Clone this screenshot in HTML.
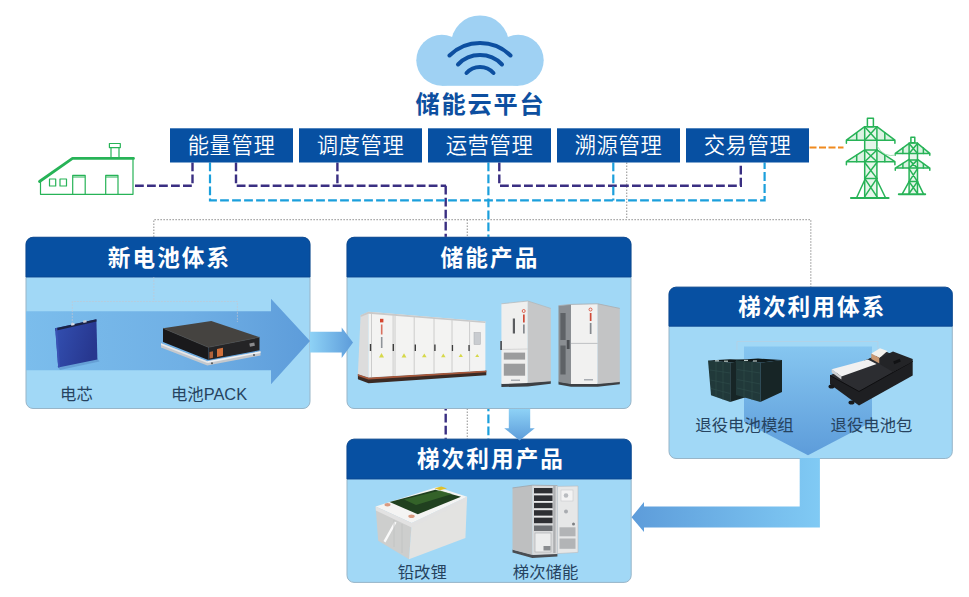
<!DOCTYPE html>
<html lang="zh-CN">
<head>
<meta charset="utf-8">
<title>储能云平台</title>
<style>
  html, body { margin: 0; padding: 0; background: #ffffff; }
  body { width: 969px; height: 597px; overflow: hidden; position: relative; }
  svg { position: absolute; left: 0; top: 0; display: block; }
  text { font-family: "Liberation Sans", "Noto Sans CJK SC", sans-serif; }
  .hd { font-weight: 700; font-size: 22.6px; fill: #ffffff; letter-spacing: 2.1px; text-anchor: middle; }
  .menu { font-weight: 350; font-size: 21.3px; fill: #ffffff; letter-spacing: 0.6px; text-anchor: middle; }
  .lbl { font-weight: 400; font-size: 16.4px; fill: #26435f; text-anchor: middle; }
  .title { font-weight: 700; font-size: 24.2px; fill: #0d4fa0; letter-spacing: 1.8px; text-anchor: middle; }
  .pur { stroke: #3a2f82; stroke-width: 2.4; stroke-dasharray: 8.8 3.2; fill: none; }
  .cya { stroke: #1b9fdc; stroke-width: 2.2; stroke-dasharray: 8.8 3.2; fill: none; }
  .ora { stroke: #f08a1e; stroke-width: 2; stroke-dasharray: 7 2.5; fill: none; }
  .dot { stroke: #a2a2a2; stroke-width: 1.2; stroke-dasharray: 1.5 1.5; fill: none; }
  .grn { stroke: #27b357; fill: none; stroke-linecap: round; stroke-linejoin: round; }
</style>
</head>
<body>
<svg width="969" height="597" viewBox="0 0 969 597">
<defs>
  <linearGradient id="gBand" x1="0" y1="0" x2="1" y2="0">
    <stop offset="0" stop-color="#7bbdec"/>
    <stop offset="0.55" stop-color="#70b0e5"/>
    <stop offset="1" stop-color="#5d9cda"/>
  </linearGradient>
  <linearGradient id="gSmallR" x1="0" y1="0" x2="1" y2="0">
    <stop offset="0" stop-color="#8ed2f6"/>
    <stop offset="1" stop-color="#5d9cda"/>
  </linearGradient>
  <linearGradient id="gDown" x1="0" y1="0" x2="0" y2="1">
    <stop offset="0" stop-color="#8ed2f6"/>
    <stop offset="1" stop-color="#5d9cda"/>
  </linearGradient>
  <linearGradient id="gInner" x1="0" y1="0" x2="0" y2="1">
    <stop offset="0" stop-color="#86c6f0"/>
    <stop offset="1" stop-color="#5d9cda"/>
  </linearGradient>
  <linearGradient id="gCell" x1="0" y1="0" x2="1" y2="0.3">
    <stop offset="0" stop-color="#3350b2"/>
    <stop offset="1" stop-color="#27378f"/>
  </linearGradient>
  <linearGradient id="gLeft" x1="0" y1="0" x2="1" y2="0">
    <stop offset="0" stop-color="#5d9cda"/>
    <stop offset="1" stop-color="#80caf4"/>
  </linearGradient>
  <filter id="sh" x="-5%" y="-5%" width="110%" height="112%">
    <feGaussianBlur in="SourceAlpha" stdDeviation="1.2"/>
    <feOffset dx="0" dy="1"/>
    <feComponentTransfer><feFuncA type="linear" slope="0.28"/></feComponentTransfer>
    <feMerge><feMergeNode/><feMergeNode in="SourceGraphic"/></feMerge>
  </filter>
</defs>

<!-- ===== CLOUD ===== -->
<g id="cloud">
  <g fill="#9fd1f3">
    <circle cx="480" cy="44.4" r="29"/>
    <circle cx="441.8" cy="60.3" r="25.5"/>
    <circle cx="518.2" cy="60.3" r="25.5"/>
    <rect x="441.8" y="55" width="76.4" height="30.8"/>
  </g>
  <g fill="none" stroke="#0d4fa0" stroke-width="4" stroke-linecap="round">
    <path d="M 449.5 55.5 A 43.5 43.5 0 0 1 510.5 55.5"/>
    <path d="M 458 64.5 A 30.5 30.5 0 0 1 502 64.5"/>
    <path d="M 466.5 73 A 18 18 0 0 1 493.5 73"/>
  </g>
  <text class="title" x="480.5" y="113">储能云平台</text>
</g>

<!-- ===== DASHED CONNECTORS (behind panels) ===== -->
<g id="lines">
  <!-- grey dotted -->
  <path class="dot" d="M 153.8 237 V 219.6 H 810.8 V 287"/>
  <path class="dot" d="M 626.7 162.5 V 219.6"/>
  <path class="dot" d="M 467.3 219.6 V 440"/>
  <!-- purple -->
  <path class="pur" d="M 192.5 162.5 V 185.8 H 133.5"/>
  <path class="pur" d="M 236 162.5 V 185.8 H 446"/>
  <path class="pur" d="M 337.4 162.5 V 185.8"/>
  <path class="pur" d="M 499.3 162.5 V 185.8 H 740.8 V 162.5"/>
  <path class="pur" d="M 445.7 185.8 V 440"/>
  <!-- cyan -->
  <path class="cya" d="M 210 162.5 V 200.4 H 764.6 V 162.5"/>
  <path class="cya" d="M 488.4 162.5 V 440"/>
  <path class="cya" d="M 613.3 162.5 V 200.4"/>
  <!-- orange -->
  <path class="ora" d="M 809.5 147.5 H 843.5"/>
</g>

<!-- ===== MENU BAR ===== -->
<g id="menu">
  <g fill="#0750a2">
    <rect x="170" y="128.3" width="123" height="34.2"/>
    <rect x="299" y="128.3" width="123" height="34.2"/>
    <rect x="428" y="128.3" width="123" height="34.2"/>
    <rect x="557" y="128.3" width="123" height="34.2"/>
    <rect x="686" y="128.3" width="123" height="34.2"/>
  </g>
  <text class="menu" x="231.5" y="152.6">能量管理</text>
  <text class="menu" x="360.5" y="152.6">调度管理</text>
  <text class="menu" x="489.5" y="152.6">运营管理</text>
  <text class="menu" x="618.5" y="152.6">溯源管理</text>
  <text class="menu" x="747.5" y="152.6">交易管理</text>
  <!-- house -->
  <g class="grn" stroke-width="1.2">
    <path d="M 40.5 181 L 40.5 194.3 L 133 194.3 L 133 158.5"/>
    <rect x="49.5" y="179" width="6.2" height="7"/>
    <rect x="60" y="179" width="6.5" height="7"/>
    <path d="M 72.7 194.3 V 175.4 H 85.2 V 194.3 M 72.7 177 H 85.2"/>
    <path d="M 105.7 194.3 V 175.4 H 118 V 194.3 M 105.7 177 H 118"/>
    <path d="M 109.4 143.5 H 120.3 V 147.6 H 109.4 Z M 111 147.6 V 158 M 119 147.6 V 158"/>
  </g>
  <path class="grn" stroke-width="2.8" d="M 39.5 181.5 L 72.5 158.4 L 133.5 158.4"/>
  <!-- towers -->
  <g id="towers">
    <g fill="#dcf3e3" stroke="none">
      <path d="M 846.4 140.2 L 864.7 126.7 H 876.9 L 894.9 140.2 Z M 846.4 161.7 L 864.7 149.8 H 876.9 L 894.9 161.7 Z"/>
      <path d="M 895.3 153.4 L 909.1 143.3 H 917.5 L 929.8 153.4 Z M 895.3 168.1 L 909.1 159.3 H 917.5 L 929.8 168.1 Z"/>
      <path d="M 864.7 126.7 H 876.9 V 197.5 H 864.7 Z M 909.1 143 H 917.5 V 193.5 H 909.1 Z" fill="#e6f6ea"/>
    </g>
    <g class="grn" stroke-width="1.5">
      <!-- tower 1 -->
      <rect x="867.4" y="118.3" width="6" height="8.4"/>
      <path d="M 864.7 126.7 V 197.5 M 876.9 126.7 V 197.5 M 864.7 126.7 H 876.9"/>
      <path d="M 846.4 143.2 V 140.2 H 894.9 V 143.2 M 846.4 140.2 L 864.7 126.7 M 894.9 140.2 L 876.9 126.7"/>
      <path d="M 856.7 132.8 V 140.2 M 884.8 132.8 V 140.2"/>
      <path d="M 846.4 164.8 V 161.7 H 894.9 V 164.8 M 846.4 161.7 L 864.7 149.8 M 894.9 161.7 L 876.9 149.8"/>
      <path d="M 856.7 155.2 V 161.7 M 884.8 155.2 V 161.7"/>
      <path d="M 864.7 126.7 L 876.9 140.2 M 876.9 126.7 L 864.7 140.2"/>
      <path d="M 864.7 150 L 876.9 161.7 M 876.9 150 L 864.7 161.7 M 864.7 150 H 876.9"/>
      <path d="M 864.7 162.5 L 876.9 178.4 M 876.9 162.5 L 864.7 178.4 M 864.7 178.4 H 876.9"/>
      <path d="M 864.7 178.4 L 876.9 196.7 M 876.9 178.4 L 864.7 196.7"/>
      <path d="M 864.7 180 L 856.7 197.5 M 876.9 180 L 885.4 197.5"/>
      <!-- tower 2 -->
      <rect x="910.9" y="137.2" width="3.9" height="5.6"/>
      <path d="M 909.1 143 V 193.5 M 917.5 143 V 193.5 M 909.1 143 H 917.5"/>
      <path d="M 895.3 155.2 V 153.4 H 929.8 V 155.2 M 895.3 153.4 L 909.1 143.3 M 929.8 153.4 L 917.5 143.3"/>
      <path d="M 902.9 148 V 153.4 M 923.4 148 V 153.4"/>
      <path d="M 895.3 170.2 V 168.1 H 929.8 V 170.2 M 895.3 168.1 L 909.1 159.3 M 929.8 168.1 L 917.5 159.3"/>
      <path d="M 902.9 163.5 V 168.1 M 923.4 163.5 V 168.1"/>
      <path d="M 909.1 143.5 L 917.5 153.4 M 917.5 143.5 L 909.1 153.4"/>
      <path d="M 909.1 159.9 L 917.5 168.1 M 917.5 159.9 L 909.1 168.1 M 909.1 159.9 H 917.5"/>
      <path d="M 909.1 168.7 L 917.5 181.6 M 917.5 168.7 L 909.1 181.6 M 909.1 181.6 H 917.5"/>
      <path d="M 909.1 181.6 L 917.5 193.5 M 917.5 181.6 L 909.1 193.5"/>
      <path d="M 909.1 181.6 L 902.3 193.9 M 917.5 181.6 L 923.4 193.9"/>
    </g>
    <path class="grn" stroke-width="2.2" d="M 851 198 H 888.5"/>
    <path class="grn" stroke-width="2" d="M 898.8 194.2 H 925.2"/>
    <path d="M 877 146 Q 884 158 896 155" fill="none" stroke="#8fd8a6" stroke-width="0.8"/>
  </g>
</g>

<!-- ===== PANELS ===== -->
<g id="panels">
  <!-- P1 新电池体系 -->
  <g>
    <rect x="26" y="237.3" width="284" height="171.2" rx="7" ry="7" fill="#a1d8f6" stroke="#98b5c8" stroke-width="1"/>
    <path d="M 26 277.0 V 244.3 A 7 7 0 0 1 33 237.3 H 303 A 7 7 0 0 1 310 244.3 V 277.0 Z" fill="#0750a2" stroke="#0b4690" stroke-width="0.9"/>
  </g>
  <path d="M 26 311.3 H 271 V 298.7 L 310 341 L 271 384.3 V 370.3 H 26 Z" fill="url(#gBand)"/>
  <path d="M 72.3 330 V 301.5 H 237.4 V 322 M 153.8 277 V 301.5" fill="none" stroke="#c3c6cf" stroke-width="0.8" stroke-dasharray="2 1" opacity="0.8"/>
  <text class="hd" x="169.5" y="266">新电池体系</text>
  <g id="cell">
    <path d="M 57 366 L 97.5 358.5 L 99.5 361.5 L 60 370 Z" fill="#5a8fc8" opacity="0.6"/>
    <path d="M 55.2 328.2 L 96.4 319.2 L 97.4 359.4 L 58.2 367.5 Z" fill="url(#gCell)"/>
    <path d="M 55.2 328.2 L 96.4 319.2 L 96.5 321.6 L 55.4 330.8 Z" fill="#1b2346"/>
    <path d="M 55.2 328.2 L 58.2 367.5 L 60 367.1 L 57.2 327.8 Z" fill="#3a52b4"/>
    <rect x="71" y="323.4" width="3.4" height="2.2" fill="#d8dce6" transform="rotate(-12 72 324)"/>
    <rect x="83" y="320.6" width="3.4" height="2.2" fill="#c8ccd6" transform="rotate(-12 84 321)"/>
  </g>
  <g id="pack">
    <path d="M 161 343.2 L 207.3 361.3 L 260.5 351.3 L 260.5 355.5 L 207.3 365.6 L 161 347.4 Z" fill="#c4c8cd"/>
    <path d="M 161 343.2 L 207.3 361.3 L 207.3 363 L 161 345 Z" fill="#e6e8ea"/>
    <path d="M 207.3 361.3 L 260.5 351.3 L 260.5 353 L 207.3 363 Z" fill="#eef0f2"/>
    <path d="M 163 328.2 L 211.3 321.1 L 259.5 337.2 L 208.3 347.3 Z" fill="#454340"/>
    <path d="M 163 328.2 L 208.3 347.3 L 208.3 360 L 163 342 Z" fill="#19191b"/>
    <path d="M 208.3 347.3 L 259.5 337.2 L 259.5 350.3 L 208.3 360 Z" fill="#242426"/>
    <path d="M 163 328.2 L 208.3 347.3 L 259.5 337.2" fill="none" stroke="#55504a" stroke-width="0.7"/>
    <path d="M 217 349 L 223 347.8 L 223 355.8 L 217 357 Z" fill="#d2703a"/>
    <path d="M 209.5 352 L 213 351.3 L 213 357.8 L 209.5 358.5 Z" fill="#b0623a"/>
    <rect x="249.5" y="343" width="5" height="3.2" fill="#8a8a8c" transform="rotate(-11 252 344)"/>
    <circle cx="212" cy="363.3" r="1" fill="#555"/><circle cx="254" cy="355" r="1" fill="#555"/>
  </g>
  <text class="lbl" x="76.5" y="399.5">电芯</text>
  <text class="lbl" x="209" y="399.5">电池PACK</text>


  <!-- P2 储能产品 -->
  <g>
    <rect x="347" y="237.3" width="284" height="171.2" rx="7" ry="7" fill="#a1d8f6" stroke="#98b5c8" stroke-width="1"/>
    <path d="M 347 277.0 V 244.3 A 7 7 0 0 1 354 237.3 H 624 A 7 7 0 0 1 631 244.3 V 277.0 Z" fill="#0750a2" stroke="#0b4690" stroke-width="0.9"/>
  </g>
  <!-- small arrow P1 -> P2 -->
  <path d="M 310 331.8 H 341.7 V 327.5 L 353 342.5 L 341.7 358 V 352.6 H 310 Z" fill="url(#gSmallR)"/>
  <text class="hd" x="490" y="266">储能产品</text>
  <g id="container">
    <path d="M 357.9 374.1 L 368.5 377.6 L 486.3 370.6 L 486.3 375.2 L 368.5 383.2 L 357.9 379.2 Z" fill="#3a2a24"/>
    <path d="M 357.9 374.1 L 368.5 377.6 L 486.3 370.6 L 486.3 372.3 L 368.5 379.6 L 357.9 376 Z" fill="#a5583c"/>
    <path d="M 360.6 315.2 L 368.5 311.7 L 368.5 377.6 L 357.9 374.1 Z" fill="#dcdcdc"/>
    <path d="M 368.5 311.7 L 485.4 321.4 L 485.4 370.6 L 368.5 377.6 Z" fill="#f3f3f2"/>
    <path d="M 360.6 315.2 L 368.5 311.7 L 485.4 321.4 L 485.4 323 L 368.5 313.8 L 360.6 317 Z" fill="#c9c9c9"/>
    <g stroke="#c2c2c2" stroke-width="0.8" fill="none">
      <path d="M 371.5 314 V 377 M 393.1 315.5 V 376 M 395 315.7 V 376 M 414.2 317.2 V 375 M 434 318.8 V 373.8 M 452 320.2 V 372.6 M 469.6 321.6 V 371.6"/>
    </g>
    <g fill="#3c3c3c">
      <rect x="369.8" y="344" width="1.4" height="7"/><rect x="392.6" y="344" width="1.4" height="7"/>
      <rect x="414.6" y="344.5" width="1.4" height="6.5"/><rect x="434.2" y="344.5" width="1.4" height="6.5"/>
      <rect x="451.8" y="345" width="1.3" height="6"/><rect x="468.4" y="345" width="1.3" height="6"/>
    </g>
    <g fill="#d6d84a">
      <path d="M 381.5 353 L 384 357.5 L 379 357.5 Z"/><path d="M 404 353.2 L 406.4 357.4 L 401.6 357.4 Z"/>
      <path d="M 424.3 353.4 L 426.6 357.3 L 422 357.3 Z"/><path d="M 443.3 353.6 L 445.5 357.2 L 441.1 357.2 Z"/>
      <path d="M 460.8 353.8 L 462.9 357.1 L 458.7 357.1 Z"/><path d="M 477.2 354 L 479.2 357 L 475.2 357 Z"/>
    </g>
    <rect x="380" y="318.8" width="3.4" height="3.6" fill="#d5452f"/>
    <rect x="380.9" y="324.5" width="1.6" height="10" fill="#d9705f"/>
    <rect x="380.9" y="337" width="1.6" height="11" fill="#8f9499"/>
    <rect x="474" y="332.5" width="6.4" height="12" fill="#c9ccd0" stroke="#a9acb0" stroke-width="0.5"/>
  </g>
  <g id="cab2">
    <path d="M 501.4 383.4 L 527.8 382.6 L 550.8 380.8 L 550.8 383.8 L 527.8 386.6 L 501.4 387 Z" fill="#3d4044"/>
    <path d="M 501.4 303.8 L 527.8 301 L 527.8 383 L 501.4 384 Z" fill="#efefee"/>
    <path d="M 527.8 301 L 550.8 308.4 L 550.8 381.2 L 527.8 383 Z" fill="#c6c7c8"/>
    <path d="M 501.4 303.8 L 527.8 301 L 550.8 308.4" fill="none" stroke="#b5b5b5" stroke-width="0.7"/>
    <path d="M 501.4 349.5 L 527.8 349 " stroke="#c9c9c9" stroke-width="0.7" fill="none"/>
    <rect x="503.8" y="352.6" width="21.3" height="7" fill="#9b9c9d"/>
    <rect x="503.8" y="363.7" width="21.3" height="12" fill="#9b9c9d"/>
    <rect x="512.8" y="318.5" width="2.2" height="15" fill="#5a5c5f"/>
    <rect x="500.2" y="341" width="1.8" height="9" fill="#55585c"/>
    <circle cx="523.7" cy="311" r="1.5" fill="none" stroke="#d5452f" stroke-width="0.8"/>
    <rect x="523" y="314.5" width="1.7" height="8" fill="#cf4a38"/>
    <rect x="523" y="324.5" width="1.7" height="9" fill="#85898e"/>
    <rect x="511" y="379.5" width="9" height="1.5" fill="#a9adb2"/>
  </g>
  <g id="cab3">
    <path d="M 558.5 381.6 L 571 383.6 L 597.7 383.6 L 619.8 381.6 L 619.8 384.2 L 597.7 386.8 L 571 386.8 L 558.5 384.4 Z" fill="#3d4044"/>
    <path d="M 558.5 305.7 L 571 304.4 L 571 384 L 558.5 382 Z" fill="#8a8e92"/>
    <rect x="560.4" y="313" width="5.2" height="27" fill="#5e6266"/>
    <rect x="560.4" y="345.5" width="5.2" height="29" fill="#5e6266"/>
    <rect x="566.8" y="340" width="2.8" height="9" fill="#4b4e52"/>
    <path d="M 571 304.4 L 597.7 303.8 L 597.7 384 L 571 384 Z" fill="#f1f1f0"/>
    <path d="M 597.7 303.8 L 619.8 308.4 L 619.8 382 L 597.7 384 Z" fill="#c3c4c5"/>
    <path d="M 558.5 305.7 L 571 304.4 L 597.7 303.8 L 619.8 308.4" fill="none" stroke="#a9abad" stroke-width="0.8"/>
    <path d="M 571 343.4 H 597.7" stroke="#b9bbbd" stroke-width="0.9" fill="none"/>
    <circle cx="590.5" cy="309.5" r="1.5" fill="none" stroke="#d5452f" stroke-width="0.8"/>
    <rect x="589.8" y="313" width="1.7" height="8" fill="#cf4a38"/>
    <rect x="589.8" y="323" width="1.7" height="11" fill="#85898e"/>
    <rect x="584" y="379" width="9" height="1.5" fill="#a9adb2"/>
  </g>


  <!-- P3 梯次利用产品 -->
  <g>
    <rect x="347" y="439.2" width="284.2" height="143.2" rx="7" ry="7" fill="#a1d8f6" stroke="#98b5c8" stroke-width="1"/>
    <path d="M 347 479.0 V 446.2 A 7 7 0 0 1 354 439.2 H 624.2 A 7 7 0 0 1 631.2 446.2 V 479.0 Z" fill="#0750a2" stroke="#0b4690" stroke-width="0.9"/>
  </g>
  <!-- down arrow P2 -> P3 -->
  <path d="M 508.8 408.8 H 530.2 V 428.3 H 534.8 L 519.6 440.4 L 504.2 428.3 H 508.8 Z" fill="url(#gDown)"/>
  <text class="hd" x="491" y="466.5">梯次利用产品</text>
  <g id="lead">
    <path d="M 375.6 506.4 L 411.7 523.1 L 409 559.2 L 378.2 540.7 Z" fill="#cdcecd"/>
    <path d="M 411.7 523.1 L 467.1 496.7 L 465.4 538 L 409 559.2 Z" fill="#e3e3e1"/>
    <path d="M 375.6 506.4 L 437.2 487 L 467.1 496.7 L 411.7 523.1 Z" fill="#f4f4f3"/>
    <path d="M 375.6 506.4 L 411.7 523.1 L 467.1 496.7 L 467 500.5 L 411.6 527.4 L 375.8 510.4 Z" fill="#e2e2e2"/>
    <path d="M 389.6 502 L 435.4 489.7 L 461 496.7 L 417.8 514.3 Z" fill="#20401f"/>
    <path d="M 404 499.5 L 440 490.5 L 452 494 L 416 505 Z" fill="#3a6a2c" opacity="0.8"/>
    <path d="M 434.5 488.2 L 441.5 486.6 L 447 488.4 L 440 490.3 Z" fill="#e0c02a"/>
    <ellipse cx="387.5" cy="504.8" rx="3" ry="1.7" fill="#d99a80"/>
    <ellipse cx="411.5" cy="516.2" rx="3.2" ry="1.8" fill="#d99a80"/>
    <path d="M 383.5 541 L 394.5 521.5 L 396.5 522.5 L 385.5 542.5 Z" fill="#fafafa"/>
    <path d="M 394 520 V 547 M 402 524 V 553" stroke="#c2c3c3" stroke-width="0.9" fill="none"/>
  </g>
  <g id="cab4">
    <path d="M 512.5 549.4 L 532.3 554.6 L 557.4 553.6 L 557.4 556.6 L 532.3 558 L 512.5 552.4 Z" fill="#4a4d52"/>
    <path d="M 512.5 487.9 L 532.3 485.2 L 532.3 555 L 512.5 549.7 Z" fill="#bebfc0"/>
    <path d="M 532.3 485.2 L 557.4 485.6 L 557.4 554 L 532.3 555 Z" fill="#d9dadb"/>
    <path d="M 512.5 487.9 L 532.3 485.2 L 557.4 485.6" fill="none" stroke="#9c9ea0" stroke-width="0.7"/>
    <g fill="#2e2f33">
      <rect x="534" y="488" width="18.5" height="5.6"/><rect x="534" y="495.4" width="18.5" height="5.6"/>
      <rect x="534" y="502.8" width="18.5" height="5.6"/><rect x="534" y="510.2" width="18.5" height="5.6"/>
      <rect x="534" y="517.6" width="18.5" height="5.6"/>
    </g>
    <g fill="#e9e9ea">
      <rect x="534" y="493.6" width="18.5" height="1.4"/><rect x="534" y="501" width="18.5" height="1.4"/>
      <rect x="534" y="508.4" width="18.5" height="1.4"/><rect x="534" y="515.8" width="18.5" height="1.4"/>
    </g>
    <rect x="534" y="525.5" width="18.5" height="5.5" fill="#6d7074"/>
    <rect x="535" y="533" width="16" height="19" fill="#eceded" stroke="#a7a9ab" stroke-width="0.6"/>
    <rect x="543.5" y="546" width="7" height="4.5" fill="#8a8d90"/>
    <rect x="553.2" y="486" width="2.4" height="67" fill="#aeb0b2"/>
    <path d="M 557.4 486.4 L 578 486 L 578 552.4 L 557.4 553.6 Z" fill="#e6e7e7"/>
    <path d="M 557.4 486.4 L 578 486 L 578 552.4 L 557.4 553.6 Z" fill="none" stroke="#b9bbbd" stroke-width="0.6"/>
    <rect x="559.5" y="527.3" width="16" height="9" fill="#b2b4b6"/>
    <rect x="559.5" y="538.5" width="16" height="10.3" fill="#b2b4b6"/>
    <rect x="561" y="490" width="12" height="11" fill="#f3f3f3" stroke="#c1c3c5" stroke-width="0.5"/>
    <circle cx="566" cy="495.5" r="2.3" fill="#b9bcc0"/>
    <circle cx="566" cy="511.5" r="2" fill="#a9acb0"/>
    <circle cx="573.5" cy="524" r="1.5" fill="#7d8084"/>
  </g>
  <text class="lbl" x="422.3" y="577.6">铅改锂</text>
  <text class="lbl" x="545.6" y="577.6">梯次储能</text>

  <!-- P4 梯次利用体系 -->
  <g>
    <rect x="669" y="287.2" width="283.3" height="171.3" rx="7" ry="7" fill="#a1d8f6" stroke="#98b5c8" stroke-width="1"/>
    <path d="M 669 326.2 V 294.2 A 7 7 0 0 1 676 287.2 H 945.3 A 7 7 0 0 1 952.3 294.2 V 326.2 Z" fill="#0750a2" stroke="#0b4690" stroke-width="0.9"/>
  </g>
  <path d="M 744 346.4 H 872 V 421.7 L 808 455.3 L 744 421.7 Z" fill="url(#gInner)"/>
  <path d="M 737 350 V 341.5 H 878 V 350" fill="none" stroke="#b9cede" stroke-width="0.8" opacity="0.8"/>
  <text class="hd" x="812.3" y="314.7">梯次利用体系</text>
  <g id="modules">
    <path d="M 708 360.6 L 730.2 362.6 L 730.2 402 L 711 395.3 Z" fill="#21393a"/>
    <path d="M 730.2 362.6 L 752 360 L 752 395.3 L 730.2 402 Z" fill="#172526"/>
    <path d="M 708 360.6 L 730 359.2 L 752 360 L 730.2 362.6 Z" fill="#0f191a"/>
    <path d="M 736 360 L 760.4 362.6 L 760.4 402 L 736 395 Z" fill="#21393a"/>
    <path d="M 760.4 362.6 L 782 360 L 782 392 L 760.4 402 Z" fill="#172526"/>
    <path d="M 736 360 L 758 358.6 L 782 360 L 760.4 362.6 Z" fill="#0f191a"/>
    <g stroke="#2f4d4c" stroke-width="0.6" fill="none">
      <path d="M 710 370 L 730.2 373 M 710.5 380 L 730.2 384 M 711 388.5 L 730.2 393.5"/>
      <path d="M 737 369.5 L 760.4 373 M 737 379.5 L 760.4 384 M 737 388 L 760.4 393.5"/>
      <path d="M 716 361.5 V 397 M 723 362 V 399.5 M 744 361 V 397.5 M 752 361.8 V 399.8"/>
    </g>
    <g fill="#b9c7c4"><rect x="715" y="360.2" width="4" height="1.2"/><rect x="724" y="360.6" width="4" height="1.2"/><rect x="744" y="359.8" width="4" height="1.2"/><rect x="753" y="360.4" width="4" height="1.2"/></g>
  </g>
  <g id="rpack">
    <path d="M 830 375.5 L 885.4 351.7 L 912.7 361.4 L 912.7 375.5 L 859 405.4 L 830 384.3 Z" fill="#1e1f22"/>
    <path d="M 830 375.5 L 885.4 351.7 L 912.7 361.4 L 859 391.5 Z" fill="#2c2d31"/>
    <path d="M 830 375.5 L 859 391.5 L 912.7 361.4" fill="none" stroke="#0e0e10" stroke-width="1"/>
    <path d="M 831.7 369.3 L 867.8 359.6 L 876.6 364 L 841.4 376.4 Z" fill="#f1f1f1"/>
    <path d="M 831.7 369.3 L 841.4 376.4 L 841.4 379.6 L 831.7 372.6 Z" fill="#cfd0d2"/>
    <path d="M 871.3 353.5 L 880 348.2 L 887.5 351 L 879.5 358 Z" fill="#f3f1ec"/>
    <path d="M 871.3 353.5 L 879.5 358 L 879.5 363.5 L 871.3 359 Z" fill="#c99770"/>
    <path d="M 879.5 358 L 893 351.5 L 912.7 359 L 912.7 361.4 L 893 372 L 879.5 364 Z" fill="#232427"/>
    <rect x="893.5" y="360" width="7" height="3" fill="#111214" transform="rotate(-22 897 361.5)"/>
    <ellipse cx="831.5" cy="386.5" rx="3" ry="2" fill="#18191b"/>
    <ellipse cx="851.5" cy="402.5" rx="3" ry="2" fill="#18191b"/>
  </g>
  <text class="lbl" x="744.5" y="431">退役电池模组</text>
  <text class="lbl" x="871.5" y="431">退役电池包</text>

  <!-- elbow arrow P4 -> P3 -->
  <path d="M 799.7 458 H 819.9 V 527.6 H 644 V 532 L 631.5 517.2 L 644 502 V 506.5 H 799.7 Z" fill="url(#gLeft)"/>
</g>

</svg>
</body>
</html>
